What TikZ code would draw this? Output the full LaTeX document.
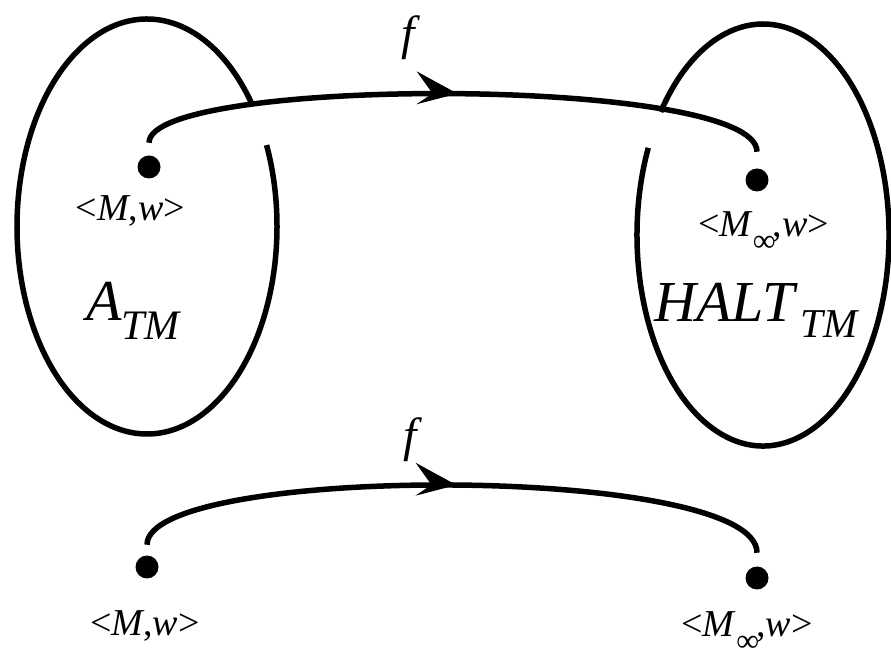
\documentclass[tikz,border=0pt]{standalone}
\usepackage{fontspec}
\setmainfont{Liberation Serif}
\usetikzlibrary{decorations.markings}
\begin{document}
\begin{tikzpicture}[x=1pt,y=1pt,
  line width=5.5pt,
  dot/.style={circle,fill=black,inner sep=0pt,minimum size=23pt},
  lbl/.style={inner sep=0pt,anchor=base,font=\fontsize{38}{44}\selectfont},
  big/.style={inner sep=0pt,anchor=base,font=\fontsize{58}{64}\selectfont\itshape},
  flbl/.style={inner sep=0pt,font=\fontsize{48}{54}\selectfont\itshape},
  midhead/.style={postaction={decorate},decoration={markings,
    mark=at position 0.5 with {\fill (3,0) -- (-38,22) -- (-22,0) -- (-38,-11) -- cycle;}}}
]
\useasboundingbox (0,0) rectangle (891,661);

% sets
\draw (147,434.5) ++(35.8:130 and 207.5) arc[start angle=35.8,end angle=383.1,x radius=130,y radius=207.5];
\draw (763,426) ++(155.6:126 and 211) arc[start angle=155.6,end angle=504.3,x radius=126,y radius=211];

% points
\node[dot] (l1) at (149,494) {};
\node[dot] (r1) at (757,481) {};
\node[dot] (l2) at (147,94) {};
\node[dot] (r2) at (757,83) {};

% labels
\node[lbl] (lt1) at (130.5,440) {<\textit{M},\textit{w}>};
\node[lbl] (rt1) at (763.5,424) {<\textit{M}\raisebox{-15pt}{\fontsize{32}{34}\selectfont ∞}\hspace{-3pt},\textit{w}>};
\node[lbl] (lt2) at (145,26) {<\textit{M},\textit{w}>};
\node[lbl] (rt2) at (747,24) {<\textit{M}\raisebox{-15pt}{\fontsize{32}{34}\selectfont ∞}\hspace{-3pt},\textit{w}>};

\node[big] (atm) at (133,340) {A\raisebox{-19pt}{\fontsize{42}{44}\selectfont TM}};
\node[big] (halt) at (756,339) {HALT\hspace{6pt}\raisebox{-16pt}{\fontsize{41}{44}\selectfont TM}};

\node[flbl] (f1) at (408,623) {f};
\node[flbl] (f2) at (410,221) {f};

% maps
\draw[midhead] ([yshift=10pt]l1.north) .. controls +(0,67) and +(0,76) .. ([yshift=14pt]r1.north);
\draw[midhead] ([yshift=8pt]l2.north) .. controls +(0,81) and +(0,89) .. ([yshift=11pt]r2.north);
\end{tikzpicture}
\end{document}
